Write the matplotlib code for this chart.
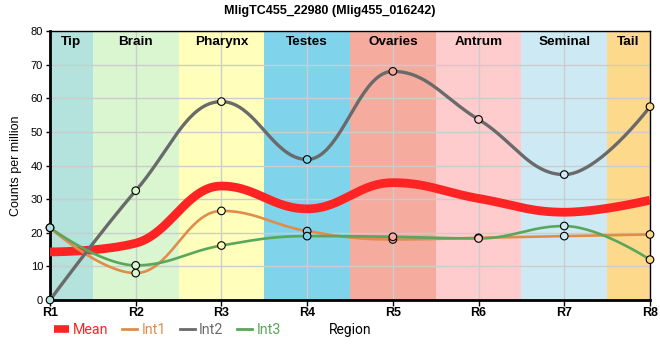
import numpy as np
import matplotlib
matplotlib.use('Agg')
import matplotlib.pyplot as plt
from matplotlib.lines import Line2D

TITLE = "MligTC455_22980 (Mlig455_016242)"
POSITIONS = ["R1", "R2", "R3", "R4", "R5", "R6", "R7", "R8"]

# tissue regions: (label, start, end) in position units (R1 = 0)
REGION_NAMES = ["Tip", "Brain", "Pharynx", "Testes", "Ovaries", "Antrum", "Seminal", "Tail"]
REGION_START = [0.0, 0.5, 1.5, 2.5, 3.5, 4.5, 5.5, 6.5]
REGION_END = [0.5, 1.5, 2.5, 3.5, 4.5, 5.5, 6.5, 7.0]
REGION_COLORS = ["#b4e2dd", "#d9f6d1", "#ffffbb", "#7fd4ec", "#f5ab9e",
                 "#fecccc", "#cdeaf4", "#fdd98b"]

INT1 = [21.5, 8.0, 26.5, 20.5, 18.0, 18.5, 19.0, 19.5]
INT2 = [0.0, 32.5, 59.0, 41.8, 68.0, 53.7, 37.3, 57.5]
INT3 = [21.5, 10.3, 16.2, 19.0, 18.8, 18.3, 22.0, 12.0]
MEAN = [14.3, 16.9, 33.9, 27.1, 34.9, 30.2, 26.1, 29.7]

C_MEAN = "#ff2424"
C_INT1 = "#e08c4b"
C_INT2 = "#6a6a6a"
C_INT3 = "#5aa65a"


def spline(xs, ys, n=40):
    """Spline through the points, control points 0.4 of the gap away from each
    point and clamped so the curve makes no false extremes."""
    xs = [float(v) for v in xs]
    ys = [float(v) for v in ys]
    m = len(xs)
    lcx, lcy = list(xs), list(ys)
    rcx, rcy = list(xs), list(ys)
    sm, den = 1.5, 2.5
    for i in range(1, m - 1):
        lx, ly = xs[i - 1], ys[i - 1]
        px, py = xs[i], ys[i]
        nx, ny = xs[i + 1], ys[i + 1]
        a_x, a_y = (sm * px + lx) / den, (sm * py + ly) / den
        b_x, b_y = (sm * px + nx) / den, (sm * py + ny) / den
        corr = ((b_y - a_y) * (b_x - px)) / (b_x - a_x) + py - b_y
        a_y += corr
        b_y += corr
        if a_y > ly and a_y > py:
            a_y = max(ly, py)
            b_y = 2 * py - a_y
        elif a_y < ly and a_y < py:
            a_y = min(ly, py)
            b_y = 2 * py - a_y
        if b_y > ny and b_y > py:
            b_y = max(ny, py)
            a_y = 2 * py - b_y
        elif b_y < ny and b_y < py:
            b_y = min(ny, py)
            a_y = 2 * py - b_y
        lcx[i], lcy[i], rcx[i], rcy[i] = a_x, a_y, b_x, b_y
    out_x, out_y = [], []
    u = np.linspace(0, 1, n)
    for i in range(m - 1):
        p0 = (xs[i], ys[i])
        c1 = (rcx[i], rcy[i])
        c2 = (lcx[i + 1], lcy[i + 1])
        p3 = (xs[i + 1], ys[i + 1])
        b0, b1, b2, b3 = (1 - u)**3, 3 * u * (1 - u)**2, 3 * u**2 * (1 - u), u**3
        out_x.append(b0 * p0[0] + b1 * c1[0] + b2 * c2[0] + b3 * p3[0])
        out_y.append(b0 * p0[1] + b1 * c1[1] + b2 * c2[1] + b3 * p3[1])
    return np.concatenate(out_x), np.concatenate(out_y)


fig = plt.figure(figsize=(6.6, 3.6), dpi=100)
ax = fig.add_axes([50 / 660, 60 / 360, 600 / 660, 269 / 360])

x = np.arange(len(POSITIONS))
for name, a, b, c in zip(REGION_NAMES, REGION_START, REGION_END, REGION_COLORS):
    ax.axvspan(a, b, color=c, lw=0, zorder=0)
    ax.text((a + b) / 2, 78.6, name, ha='center', va='top', fontsize=9.7,
            fontweight='bold', family='Liberation Sans', zorder=5)

ax.grid(True, color='#cccccc', lw=1, zorder=1)
ax.set_axisbelow(True)

mx, my = spline(x, MEAN)
ax.plot(mx, my, color=C_MEAN, lw=6.3, solid_capstyle='butt', zorder=3)

# marker faces take the colour of the region they sit in
face = REGION_COLORS
for ys, c, lw in [(INT1, C_INT1, 1.9), (INT2, C_INT2, 2.4), (INT3, C_INT3, 1.9)]:
    sx, sy = spline(x, ys)
    ax.plot(sx, sy, color=c, lw=lw, zorder=3)
    ax.scatter(x, ys, s=30, facecolors=face, edgecolors='black', linewidths=0.8,
               zorder=4, clip_on=False)

ax.set_xlim(0, 7)
ax.set_ylim(0, 80)
ax.set_xticks(x)
ax.set_xticklabels(POSITIONS, fontsize=9, fontweight='bold', family='Liberation Sans')
ax.set_yticks(range(0, 81, 10))
ax.tick_params(axis='y', labelsize=8, length=3, width=1, pad=2)
ax.tick_params(axis='x', length=4, width=1, pad=1)
for lab in ax.get_yticklabels():
    lab.set_family('Liberation Sans')

for side in ['left', 'bottom']:
    ax.spines[side].set_linewidth(2)
for side in ['top', 'right']:
    ax.spines[side].set_linewidth(1)
ax.set_ylabel("Counts per million", fontsize=9, family='Liberation Sans', labelpad=6)

fig.text(0.5, 0.985, TITLE, ha='center', va='top', fontsize=9, fontweight='bold',
         family='Liberation Sans')

handles = [Line2D([], [], color=C_MEAN, lw=5.5, solid_capstyle='butt'),
           Line2D([], [], color=C_INT1, lw=2),
           Line2D([], [], color=C_INT2, lw=2),
           Line2D([], [], color=C_INT3, lw=2)]
fig.legend(handles, ["Mean", "Int1", "Int2", "Int3"], loc='center left',
           bbox_to_anchor=(54 / 660, 30 / 360), ncol=4, frameon=False,
           labelcolor='linecolor', prop={'family': 'Roboto', 'size': 10.3},
           handlelength=1.05, handletextpad=0.3, columnspacing=0.95, borderpad=0,
           borderaxespad=0)
fig.text(350 / 660, 30 / 360, "Region", ha='center', va='center', fontsize=10,
         family='Roboto')

fig.savefig("out.png", dpi=100)
